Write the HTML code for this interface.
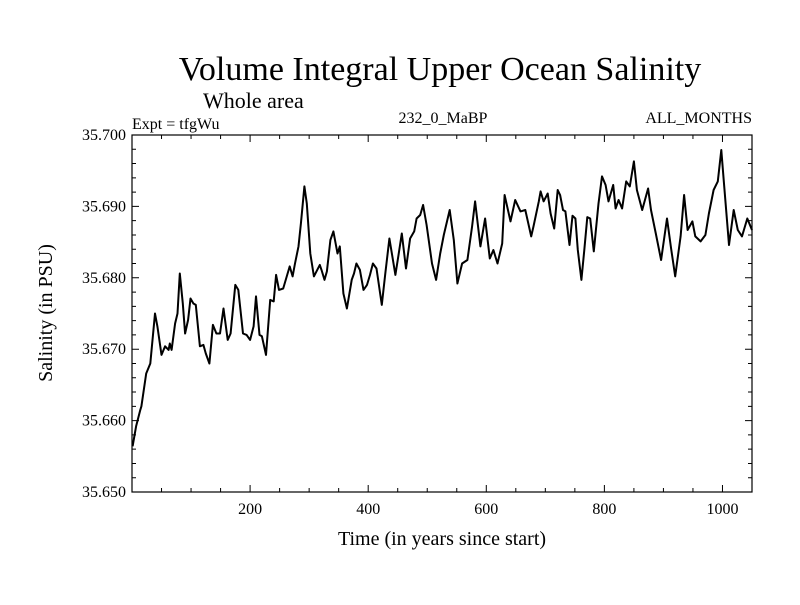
<!DOCTYPE html>
<html><head><meta charset="utf-8"><style>
body{margin:0;background:#fff}
svg text{font-family:"Liberation Serif",serif;fill:#000}
</style></head><body>
<svg id="chart" width="800" height="600" xmlns="http://www.w3.org/2000/svg">
<rect width="800" height="600" fill="#fff"/>
<text x="440" y="80" font-size="34" text-anchor="middle">Volume Integral Upper Ocean Salinity</text>
<text x="203" y="108" font-size="22">Whole area</text>
<text x="132" y="129" font-size="16">Expt = tfgWu</text>
<text x="443" y="123" font-size="16" text-anchor="middle">232_0_MaBP</text>
<text x="752" y="123" font-size="16" text-anchor="end">ALL_MONTHS</text>
<text x="442" y="545" font-size="20" text-anchor="middle">Time (in years since start)</text>
<text x="0" y="0" font-size="20" text-anchor="middle" transform="translate(52,313) rotate(-90)">Salinity (in PSU)</text>
<g id="axes"></g>
</svg>
<script>
const years=[1,7,14,16,24,31,39,43,50,56,62,64,67,73,77,81,86,90,95,99,104,108,115,121,125,131,137,143,149,155,162,167,175,180,188,194,200,206,210,216,220,227,234,240,244,249,256,267,272,276,282,286,292,296,302,308,318,321,326,330,
336,341,348,352,358,364,372,376,380,386,392,398,403,408,414,423,429,436,446,451,457,464,471,478,482,488,493,499,508,515,522,528,538,545,551,559,568,576,581,590,598,606,612,619,627,631,641,649,658,666,676,680,689,
692,697,704,709,715,721,725,730,734,741,746,751,755,761,766,771,776,782,790,796,802,807,815,819,824,830,837,843,850,855,864,874,879,887,896,906,913,920,929,935,941,949,954,963,971,977,985,992,998,1002,1011,1019,1026,1033,1042,1050];
const salinity=[35.6564,35.6592,35.6615,35.6620,35.6666,35.6680,35.6750,35.6732,35.6692,35.6704,35.6699,35.6708,35.6699,35.6736,35.6750,35.6806,35.6764,35.6722,35.6741,35.6771,35.6764,35.6762,35.6704,35.6706,35.6694,35.6680,35.6734,35.6722,35.6722,35.6757,35.6713,35.6722,35.6790,35.6783,35.6722,35.6720,35.6713,35.6732,35.6774,35.6720,35.6718,35.6692,35.6769,35.6767,35.6804,35.6783,35.6785,35.6816,35.6802,35.6820,35.6844,35.6876,35.6928,35.6904,35.6834,35.6802,35.6818,35.6811,35.6797,35.6809,
35.6853,35.6865,35.6834,35.6844,35.6778,35.6757,35.6797,35.6806,35.6820,35.6811,35.6783,35.6790,35.6804,35.6820,35.6813,35.6762,35.6806,35.6855,35.6804,35.6830,35.6862,35.6813,35.6855,35.6865,35.6883,35.6888,35.6902,35.6874,35.6820,35.6797,35.6834,35.6860,35.6895,35.6853,35.6792,35.6820,35.6825,35.6872,35.6907,35.6844,35.6883,35.6827,35.6839,35.6820,35.6848,35.6916,35.6879,35.6909,35.6893,35.6895,35.6858,35.6872,35.6907,
35.6921,35.6907,35.6918,35.6890,35.6869,35.6923,35.6916,35.6895,35.6893,35.6846,35.6887,35.6883,35.6839,35.6797,35.6839,35.6885,35.6883,35.6837,35.6904,35.6942,35.6930,35.6907,35.6930,35.6897,35.6909,35.6897,35.6935,35.6928,35.6963,35.6923,35.6895,35.6925,35.6895,35.6862,35.6825,35.6883,35.6841,35.6802,35.6858,35.6916,35.6867,35.6879,35.6858,35.6851,35.6860,35.6890,35.6923,35.6935,35.6979,35.6937,35.6846,35.6895,35.6867,35.6858,35.6883,35.6867];
const yTicks=[35.650,35.660,35.670,35.680,35.690,35.700];
const yTickLabels=["35.650","35.660","35.670","35.680","35.690","35.700"];
const xTicks=[200,400,600,800,1000];
const xTickLabels=["200","400","600","800","1000"];
const X0=132,X1=752,Y0=492,Y1=135,XMIN=0,XMAX=1050,YMIN=35.650,YMAX=35.700;
const sx=v=>X0+(v-XMIN)/(XMAX-XMIN)*(X1-X0);
const sy=v=>Y0-(v-YMIN)/(YMAX-YMIN)*(Y0-Y1);
const NS="http://www.w3.org/2000/svg";
const g=document.getElementById('axes');
function mk(t,a){const e=document.createElementNS(NS,t);for(const k in a)e.setAttribute(k,a[k]);g.appendChild(e);return e;}
const frame=mk('rect',{x:X0,y:Y1,width:X1-X0,height:Y0-Y1,fill:'none',stroke:'#000','stroke-width':1.2});


let tp='';
for(let v=0;v<=50;v+=2){const y=sy(YMIN+v/1000);const L=(v%10===0)?7:4;tp+=`M${X0},${y}h${L}M${X1},${y}h${-L}`;}
for(let v=50;v<XMAX;v+=50){const x=sx(v);const L=(v%200===0)?7:4;tp+=`M${x},${Y0}v${-L}M${x},${Y1}v${L}`;}
const ticks=mk('path',{d:tp,stroke:'#000','stroke-width':1,fill:'none'});


yTicks.forEach((v,i)=>{const t=mk('text',{x:126,y:sy(v)+5,'font-size':16,'text-anchor':'end'});t.textContent=yTickLabels[i];

});
xTicks.forEach((v,i)=>{const t=mk('text',{x:sx(v),y:514,'font-size':16,'text-anchor':'middle'});t.textContent=xTickLabels[i];

});
const d=years.map((yr,i)=>(i?'L':'M')+sx(yr).toFixed(1)+','+sy(salinity[i]).toFixed(1)).join('');
const line=mk('path',{d:d,stroke:'#000','stroke-width':2,fill:'none','stroke-linejoin':'round'});


</script>
</body></html>
